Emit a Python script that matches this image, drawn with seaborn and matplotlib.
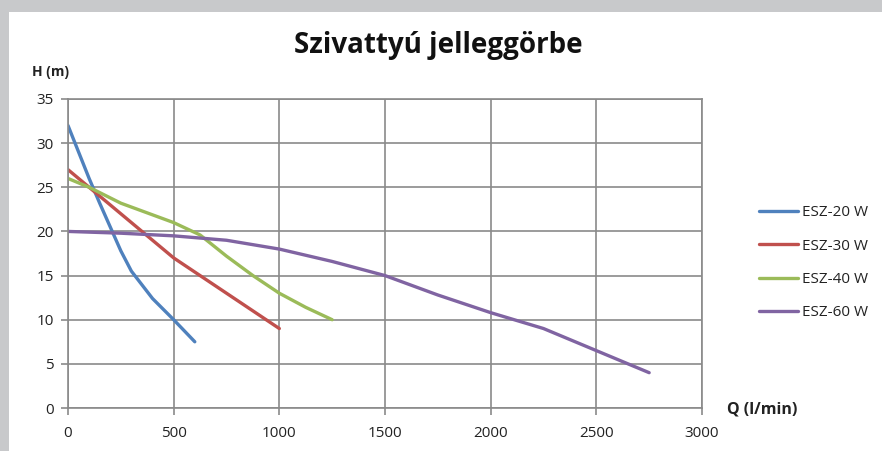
import matplotlib
matplotlib.use("Agg")
import matplotlib.pyplot as plt
from matplotlib.patches import Rectangle
import seaborn as sns
import pandas as pd

series_names = ["ESZ-20 W", "ESZ-30 W", "ESZ-40 W", "ESZ-60 W"]
q_20 = [0, 50, 100, 150, 200, 250, 300, 400, 500, 600]
h_20 = [32, 29, 26, 23.2, 20.5, 17.8, 15.5, 12.4, 10, 7.5]
q_30 = [0, 100, 200, 300, 400, 500, 750, 1000]
h_30 = [27, 25, 23, 21, 19, 17, 13, 9]
q_40 = [0, 100, 250, 500, 625, 750, 875, 1000, 1125, 1250]
h_40 = [26, 25, 23.2, 21, 19.6, 17.2, 15, 13, 11.4, 10]
q_60 = [0, 250, 500, 750, 1000, 1250, 1500, 1750, 2000, 2250, 2500, 2750]
h_60 = [20, 19.8, 19.5, 19, 18, 16.6, 15, 12.8, 10.8, 9, 6.5, 4]
x_ticks = [0, 500, 1000, 1500, 2000, 2500, 3000]
y_ticks = [0, 5, 10, 15, 20, 25, 30, 35]
colors = ["#4F81BD", "#C0504D", "#9BBB59", "#8064A2"]

frames = []
for name, q, h in zip(series_names, [q_20, q_30, q_40, q_60], [h_20, h_30, h_40, h_60]):
    frames.append(pd.DataFrame({"Q": q, "H": h, "series": name}))
df = pd.concat(frames, ignore_index=True)

sns.set_theme(style="white")
plt.rcParams["font.family"] = ["Open Sans", "DejaVu Sans"]

fig = plt.figure(figsize=(8.82, 4.51), dpi=100)
fig.patch.set_facecolor("#c8c9cb")
fig.add_artist(Rectangle((9 / 882, 0), 1, (451 - 12) / 451, transform=fig.transFigure,
                         facecolor="white", edgecolor="none", zorder=0))

ax = fig.add_axes([68 / 882, (451 - 408) / 451, 634 / 882, 309 / 451])
ax.set_facecolor("white")
sns.lineplot(data=df, x="Q", y="H", hue="series", palette=colors, sort=False,
             linewidth=2.4, ax=ax, legend=True)

ax.set_xlim(0, 3000)
ax.set_ylim(0, 35)
ax.set_xticks(x_ticks)
ax.set_yticks(y_ticks)
grid_c = "#8a8a8a"
ax.grid(True, color=grid_c, linewidth=1.2)
ax.set_axisbelow(True)
for s in ax.spines.values():
    s.set_color(grid_c)
    s.set_linewidth(1.2)
ax.tick_params(axis="both", which="both", direction="out", length=5, width=1.2,
               color=grid_c, labelsize=11, labelcolor="#222222", pad=5,
               bottom=True, left=True)
ax.tick_params(axis="x", pad=8)
ax.set_xlabel("")
ax.set_ylabel("")

fig.text(438 / 882, 1 - 46 / 451, "Szivattyú jelleggörbe", ha="center", va="center",
         fontsize=20, fontweight="bold", color="#111111")
fig.text(50 / 882, 1 - 72 / 451, "H (m)", ha="center", va="center",
         fontsize=10, fontweight="bold", color="#222222")
fig.text(727 / 882, 1 - 410 / 451, "Q (l/min)", ha="left", va="center",
         fontsize=11.5, fontweight="bold", color="#222222")

handles, labels = ax.get_legend_handles_labels()
leg = ax.legend(handles, labels, loc="center left", bbox_to_anchor=(745 / 882, 1 - 263 / 451),
                bbox_transform=fig.transFigure, frameon=False, fontsize=11,
                handlelength=2.6, handletextpad=0.25, labelspacing=1.2)
for t in leg.get_texts():
    t.set_color("#222222")

fig.savefig("out.png", dpi=100, facecolor=fig.get_facecolor())
